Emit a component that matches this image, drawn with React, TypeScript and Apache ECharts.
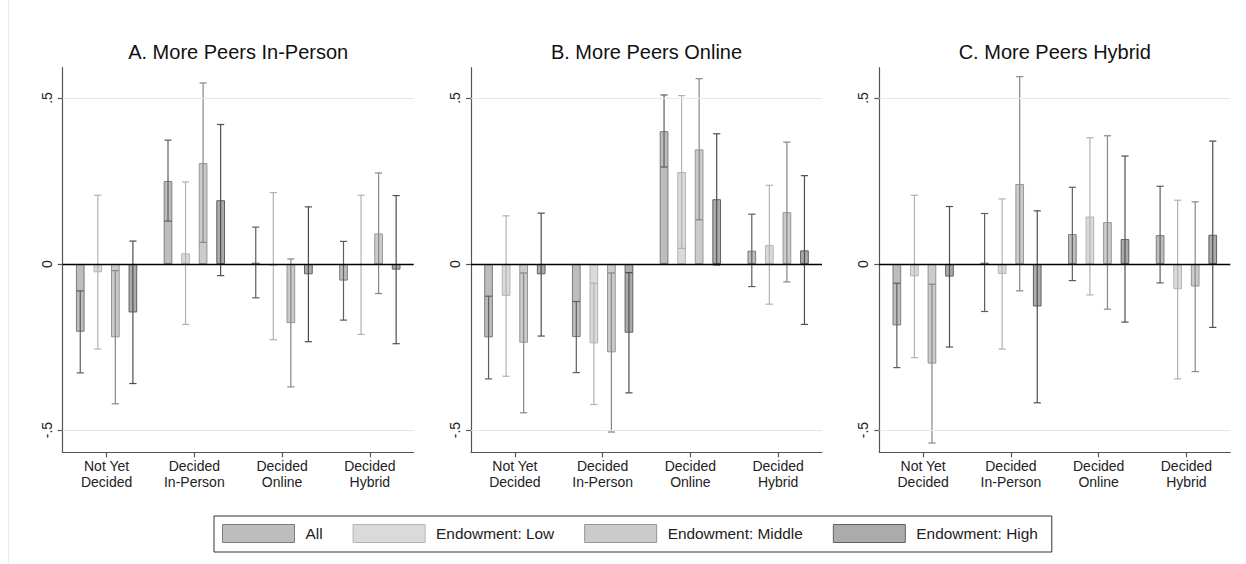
import React, { useEffect, useRef } from "react";
import * as echarts from "echarts";

// Outcome categories on each panel's x axis
const categories = ["Not Yet\nDecided", "Decided\nIn-Person", "Decided\nOnline", "Decided\nHybrid"];
// Sub-groups (one bar each per category)
const groupNames = ["All", "Endowment: Low", "Endowment: Middle", "Endowment: High"];
const panelTitles = ["A. More Peers In-Person", "B. More Peers Online", "C. More Peers Hybrid"];
const yTicks = [-0.5, 0, 0.5];

// Panel A: More peers in-person — rows are groups, columns are categories
const inPersonMean = [
  [-0.204, 0.25, 0.004, -0.05],
  [-0.025, 0.032, -0.005, -0.003],
  [-0.221, 0.304, -0.178, 0.092],
  [-0.146, 0.192, -0.031, -0.017],
];
const inPersonLo = [
  [-0.328, 0.129, -0.102, -0.169],
  [-0.256, -0.182, -0.228, -0.212],
  [-0.421, 0.065, -0.37, -0.089],
  [-0.36, -0.035, -0.234, -0.24],
];
const inPersonHi = [
  [-0.081, 0.373, 0.111, 0.068],
  [0.207, 0.247, 0.215, 0.207],
  [-0.02, 0.545, 0.015, 0.274],
  [0.069, 0.42, 0.172, 0.206],
];

// Panel B: More peers online
const onlineMean = [
  [-0.221, -0.22, 0.4, 0.04],
  [-0.096, -0.239, 0.277, 0.057],
  [-0.237, -0.266, 0.345, 0.156],
  [-0.031, -0.207, 0.195, 0.041],
];
const onlineLo = [
  [-0.346, -0.327, 0.292, -0.068],
  [-0.338, -0.423, 0.047, -0.121],
  [-0.448, -0.506, 0.133, -0.054],
  [-0.217, -0.388, -0.003, -0.182],
];
const onlineHi = [
  [-0.097, -0.113, 0.509, 0.15],
  [0.145, -0.058, 0.507, 0.237],
  [-0.027, -0.027, 0.558, 0.367],
  [0.153, -0.026, 0.392, 0.266],
];

// Panel C: More peers hybrid
const hybridMean = [
  [-0.185, 0.004, 0.09, 0.087],
  [-0.037, -0.03, 0.143, -0.076],
  [-0.3, 0.241, 0.126, -0.068],
  [-0.038, -0.128, 0.075, 0.088],
];
const hybridLo = [
  [-0.312, -0.143, -0.05, -0.057],
  [-0.282, -0.256, -0.093, -0.346],
  [-0.539, -0.081, -0.136, -0.324],
  [-0.25, -0.418, -0.175, -0.191],
];
const hybridHi = [
  [-0.058, 0.152, 0.231, 0.234],
  [0.207, 0.196, 0.38, 0.192],
  [-0.061, 0.564, 0.386, 0.187],
  [0.173, 0.16, 0.325, 0.37],
];

const panelMeans = [inPersonMean, onlineMean, hybridMean];
const panelLo = [inPersonLo, onlineLo, hybridLo];
const panelHi = [inPersonHi, onlineHi, hybridHi];

// Styling
const FONT = '"Liberation Sans", Arial, Helvetica, sans-serif';
const barFill = ["#bdbdbd", "#dadada", "#cbcbcb", "#ababab"];
const barBorder = ["#7c7c7c", "#b4b4b4", "#969696", "#606060"];
const whiskerColor = ["#5e5e5e", "#b2b2b2", "#878787", "#4e4e4e"];
const BAR_FRAC = 0.099; // bar width as share of the category band
const GAP_FRAC = 1.02; // gap between bars relative to bar width

const gridLefts = [62.7, 471, 879.3];
const GRID_W = 351;
const GRID_TOP = 67.7;
const GRID_H = 384.6;

const fmtTick = (v: number) => {
  if (v === 0) return "0";
  const s = String(Math.abs(v)).replace(/^0/, "");
  return (v < 0 ? "-" : "") + s;
};

function buildOption() {
  const axisLineStyle = { color: "#555", width: 1.2 };
  const series: any[] = [];

  panelMeans.forEach((means, p) => {
    // light reference lines at +/- .5
    series.push({
      type: "line",
      name: "grid-" + p,
      xAxisIndex: p,
      yAxisIndex: p,
      data: [],
      z: 1,
      silent: true,
      markLine: {
        silent: true,
        symbol: "none",
        label: { show: false },
        lineStyle: { color: "#e6e6e6", width: 1, type: "solid" },
        data: [{ yAxis: 0.5 }, { yAxis: -0.5 }],
      },
    });

    means.forEach((vals, g) => {
      series.push({
        type: "bar",
        name: groupNames[g],
        xAxisIndex: p,
        yAxisIndex: p,
        data: vals,
        barWidth: BAR_FRAC * 100 + "%",
        barGap: GAP_FRAC * 100 + "%",
        silent: true,
        z: 2,
        itemStyle: { color: barFill[g], borderColor: barBorder[g], borderWidth: 1 },
      });
    });

    means.forEach((_, g) => {
      const lo = panelLo[p][g];
      const hi = panelHi[p][g];
      series.push({
        type: "custom",
        name: groupNames[g],
        xAxisIndex: p,
        yAxisIndex: p,
        silent: true,
        z: 3,
        encode: { x: 0, y: [1, 2] },
        data: categories.map((_, c) => [c, lo[c], hi[c]]),
        renderItem: (params: any, api: any) => {
          const c = api.value(0);
          const pLo = api.coord([c, api.value(1)]);
          const pHi = api.coord([c, api.value(2)]);
          const band = api.size([1, 0])[0];
          const step = band * BAR_FRAC * (1 + GAP_FRAC);
          const x = pLo[0] + (g - 1.5) * step;
          const hw = 3.6;
          const style = { stroke: whiskerColor[g], lineWidth: 1.2 };
          return {
            type: "group",
            children: [
              { type: "line", shape: { x1: x, y1: pLo[1], x2: x, y2: pHi[1] }, style },
              { type: "line", shape: { x1: x - hw, y1: pLo[1], x2: x + hw, y2: pLo[1] }, style },
              { type: "line", shape: { x1: x - hw, y1: pHi[1], x2: x + hw, y2: pHi[1] }, style },
            ],
          };
        },
      });
    });

    // zero line drawn over the bars
    series.push({
      type: "line",
      name: "zero-" + p,
      xAxisIndex: p,
      yAxisIndex: p,
      data: [],
      z: 5,
      silent: true,
      markLine: {
        silent: true,
        symbol: "none",
        label: { show: false },
        lineStyle: { color: "#000", width: 1.3, type: "solid" },
        data: [{ yAxis: 0 }],
      },
    });
  });

  return {
    animation: false,
    backgroundColor: "#ffffff",
    title: panelTitles.map((t, i) => ({
      text: t,
      left: gridLefts[i] + GRID_W / 2,
      top: 42,
      textAlign: "center",
      padding: 0,
      textStyle: { fontFamily: FONT, fontSize: 20, fontWeight: "normal", color: "#111" },
    })),
    grid: gridLefts.map((l) => ({ left: l, top: GRID_TOP, width: GRID_W, height: GRID_H })),
    xAxis: gridLefts.map((_, i) => ({
      type: "category",
      gridIndex: i,
      data: categories,
      boundaryGap: true,
      axisLine: { show: true, onZero: false, lineStyle: axisLineStyle },
      axisTick: { show: true, alignWithLabel: true, length: 5, lineStyle: axisLineStyle },
      axisLabel: {
        interval: 0,
        margin: 6,
        fontFamily: FONT,
        fontSize: 14,
        lineHeight: 15.5,
        color: "#222",
      },
      splitLine: { show: false },
    })),
    yAxis: gridLefts.map((_, i) => ({
      type: "value",
      gridIndex: i,
      min: -0.567,
      max: 0.591,
      axisLine: { show: true, lineStyle: axisLineStyle },
      axisTick: { show: true, length: 5, customValues: yTicks, lineStyle: axisLineStyle },
      axisLabel: {
        customValues: yTicks,
        rotate: 90,
        margin: 9,
        fontFamily: FONT,
        fontSize: 14,
        color: "#222",
        formatter: fmtTick,
      },
      splitLine: { show: false },
    })),
    legend: {
      left: 214,
      top: 516,
      orient: "horizontal",
      itemWidth: 72,
      itemHeight: 18,
      itemGap: 30,
      padding: [8, 14, 9, 8],
      borderColor: "#333",
      borderWidth: 1,
      borderRadius: 0,
      icon: "rect",
      selectedMode: false,
      textStyle: { fontFamily: FONT, fontSize: 15.4, color: "#222", padding: [0, 0, 0, 6] },
      data: groupNames.map((n, g) => ({
        name: n,
        icon: "rect",
        itemStyle: { color: barFill[g], borderColor: barBorder[g], borderWidth: 1 },
      })),
    },
    graphic: [
      {
        type: "line",
        shape: { x1: 8.5, y1: 0, x2: 8.5, y2: 564 },
        style: { stroke: "#ececec", lineWidth: 1 },
        silent: true,
      },
    ],
    series,
  };
}

export default function App() {
  const ref = useRef<HTMLDivElement | null>(null);
  useEffect(() => {
    if (!ref.current) return;
    const chart = echarts.init(ref.current, undefined, { renderer: "svg" });
    chart.setOption(buildOption() as any);
    return () => chart.dispose();
  }, []);
  return (
    <div
      ref={ref}
      style={{ position: "absolute", left: 0, top: 0, width: 1246, height: 564, background: "#fff" }}
    />
  );
}
